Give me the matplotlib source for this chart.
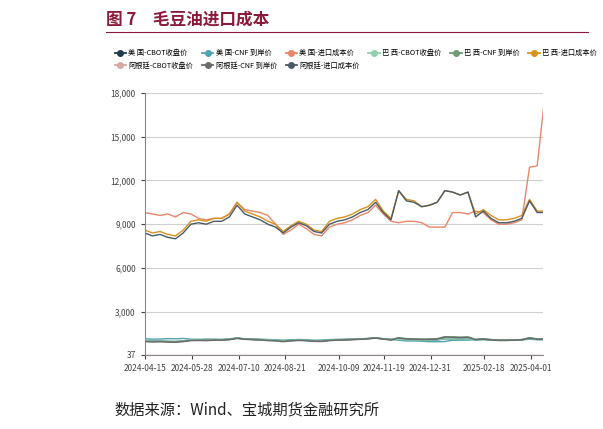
import matplotlib
matplotlib.use("Agg")
import matplotlib.pyplot as plt
import pandas as pd

plt.rcParams['font.family'] = ['Noto Sans CJK SC', 'DejaVu Sans']

dates = pd.date_range("2024-04-15", periods=53, freq="7D")
ar_import = [8400,8200,8300,8100,8000,8400,9000,9100,9000,9200,9200,9500,10300,9700,9500,9300,9000,8800,8400,8800,
             9100,8900,8500,8400,9000,9200,9300,9500,9800,10000,10500,9800,9300,11300,10600,10500,10200,10300,10500,11300,
             11200,11000,11200,9500,9900,9400,9100,9100,9200,9400,10600,9800,9800]
br_import = [8600,8400,8500,8300,8200,8600,9200,9300,9200,9400,9400,9700,10500,9900,9700,9500,9200,9000,8500,8900,
             9200,9000,8600,8500,9200,9400,9500,9700,10000,10200,10700,9900,9400,11300,10700,10600,10200,10300,10500,11300,
             11200,11000,11200,9700,10000,9600,9300,9300,9400,9600,10700,9900,9900]
us_import = [9800,9700,9600,9700,9500,9800,9700,9400,9300,9400,9400,9700,10500,10000,9900,9800,9600,9000,8300,8600,
             9000,8700,8300,8200,8800,9000,9100,9300,9600,9800,10300,9700,9200,9100,9200,9200,9100,8800,8800,8800,
             9800,9800,9700,9900,9800,9300,9000,9000,9100,9300,12900,13000,17800]
us_cnf = [1150,1120,1130,1160,1150,1170,1120,1110,1130,1120,1100,1150,1200,1150,1130,1120,1100,1080,1050,1080,
          1100,1080,1050,1060,1090,1110,1120,1130,1150,1160,1200,1150,1120,1050,1000,1000,980,950,950,960,
          1050,1050,1060,1080,1080,1060,1050,1040,1050,1070,1120,1080,1080]
ar_cnf = [950,930,940,920,910,950,1020,1030,1020,1050,1050,1080,1170,1110,1080,1060,1020,1000,950,1000,
          1030,1010,970,960,1020,1050,1060,1080,1110,1140,1190,1120,1060,1200,1130,1120,1100,1110,1130,1260,
          1250,1230,1250,1080,1120,1070,1030,1030,1050,1070,1200,1110,1110]
br_cnf = [v + 30 for v in ar_cnf]
us_cbot = [1000,980,990,970,960,1000,1060,1070,1060,1090,1090,1110,1190,1130,1110,1090,1060,1040,990,1030,
           1060,1040,1000,990,1050,1080,1090,1110,1140,1160,1210,1140,1090,1120,1080,1070,1050,1060,1070,1150,
           1150,1130,1150,1090,1120,1080,1050,1050,1060,1080,1180,1120,1120]
br_cbot = us_cbot
ar_cbot = [37] * 53

series = [
    ("美 国-CBOT收盘价", us_cbot, "#1f3b4d"),
    ("美 国-CNF 到岸价", us_cnf, "#4fa3b0"),
    ("美 国-进口成本价", us_import, "#e8866a"),
    ("巴 西-CBOT收盘价", br_cbot, "#8fcfb0"),
    ("巴 西-CNF 到岸价", br_cnf, "#6f9a78"),
    ("巴 西-进口成本价", br_import, "#d9921c"),
    ("阿根廷-CBOT收盘价", ar_cbot, "#d4aaa0"),
    ("阿根廷-CNF 到岸价", ar_cnf, "#6a6a6a"),
    ("阿根廷-进口成本价", ar_import, "#4a5a68"),
]

fig = plt.figure(figsize=(6.03, 4.29), dpi=100)
ax = fig.add_axes([0.240, 0.1725, 0.660, 0.611])
for name, vals, c in series:
    ax.plot(dates, vals, color=c, lw=1.0, label=name)
ax.set_ylim(37, 18000)
ax.set_xlim(pd.Timestamp("2024-04-15"), pd.Timestamp("2025-04-12"))
ax.set_yticks([37, 3000, 6000, 9000, 12000, 15000, 18000])
ax.set_yticklabels(["37", "3,000", "6,000", "9,000", "12,000", "15,000", "18,000"])
xt = ["2024-04-15","2024-05-28","2024-07-10","2024-08-21","2024-10-09","2024-11-19","2024-12-31","2025-02-18","2025-04-01"]
ax.set_xticks([pd.Timestamp(t) for t in xt])
ax.set_xticklabels(xt)
ax.tick_params(labelsize=6, colors="#444444", length=3)
ax.grid(axis='y', color="#d0d0d0", lw=0.8)
for s in ["top", "right"]:
    ax.spines[s].set_visible(False)
ax.spines["left"].set_color("#888888")
ax.spines["bottom"].set_color("#888888")

order = [0, 6, 1, 7, 2, 8, 3, 4, 5]
handles = [plt.Line2D([], [], color=series[i][2], lw=1.3, marker='o', ms=4) for i in order]
labels = [series[i][0] for i in order]
fig.legend(handles, labels, loc="upper left", bbox_to_anchor=(0.19, 0.885),
           ncol=6, fontsize=5.2, frameon=False, handlelength=1.6, columnspacing=1.2, handletextpad=0.3,
           labelspacing=0.6, borderaxespad=0, borderpad=0)

fig.text(0.175, 0.955, "图 7　毛豆油进口成本", fontsize=12, color="#8b1a3a", fontweight="bold", va="center")
fig.add_artist(plt.Line2D([0.175, 0.975], [0.925, 0.925], color="#8b1a3a", lw=0.8))
fig.text(0.19, 0.045, "数据来源：Wind、宝城期货金融研究所", fontsize=11, color="#222222", va="center")
fig.savefig("out.png", dpi=100)
